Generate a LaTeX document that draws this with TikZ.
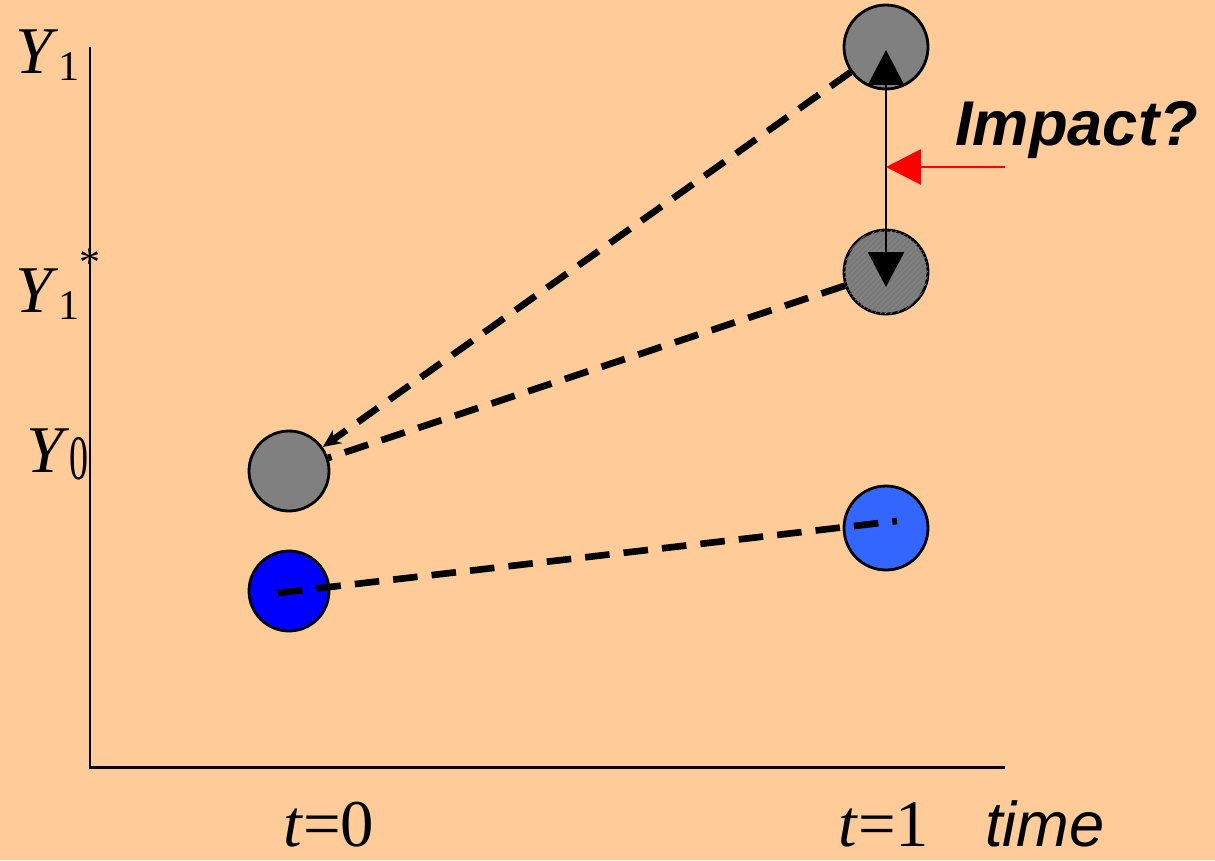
\documentclass[tikz,border=0pt]{standalone}
\usepackage{fontspec}
\setmainfont{Liberation Serif}
\setsansfont{Liberation Sans}
\usepackage{xcolor}
\usetikzlibrary{arrows.meta,patterns.meta}
\definecolor{peach}{HTML}{FFCC99}
\definecolor{dotgray}{HTML}{808080}
\definecolor{dotblue}{HTML}{0000FF}
\definecolor{dotlight}{HTML}{3366FF}
\newcommand{\lowsub}[2][24]{\raisebox{-0.14cm}{\fontsize{#1}{#1}\selectfont #2}}

\begin{document}
\begin{tikzpicture}[
  x=0.02cm, y=-0.02cm,
  dot/.style={draw, circle, line width=1.6pt, minimum size=1.68cm, inner sep=0pt},
  smalldot/.style={dot, minimum size=1.6cm},
  hatched/.style={fill=dotgray, postaction={pattern={Lines[angle=45,distance=2.2pt,line width=0.5pt]}, pattern color=black!55}},
  lbl/.style={inner sep=0pt, anchor=base west, font=\fontsize{38}{40}\selectfont},
  sflbl/.style={inner sep=0pt, anchor=base west, font=\fontsize{36}{38}\selectfont\sffamily\itshape},
  axisline/.style={line width=1.7pt},
  dash line/.style={line width=3.8pt, dash pattern=on 14pt off 8pt},
  impactarr/.style={{Triangle[length=0.7cm,width=0.72cm]}-{Triangle[length=0.7cm,width=0.72cm]}, line width=1.6pt},
  redarr/.style={-{Triangle[length=0.7cm,width=0.7cm]}, line width=1.6pt, red},
  ]
  % background and fixed frame
  \fill[peach] (0,0) rectangle (1215,860);
  \useasboundingbox (0,0) rectangle (1215,860);

  % axes
  \coordinate (ytop)   at (90,47);
  \coordinate (origin) at (90,767);
  \coordinate (xend)   at (1005,767);
  \draw[axisline] (ytop) -- (origin) -- (xend);

  % axis labels
  \node[lbl] (lab1)  at (15,73)  {\textit{Y}\lowsub{1}};
  \node[lbl] (lab1s) at (15,312) {\textit{Y}\lowsub{1}\raisebox{0.72cm}{\fontsize{24}{24}\selectfont *}};
  \node[lbl] (lab0)  at (26,472) {\textit{Y}\lowsub[36]{\scalebox{0.6}[1]{0}}};
  \node[lbl] (tzero) at (283,846) {\textit{t}=0};
  \node[lbl] (tone)  at (838,846) {\textit{t}=1};
  \node[sflbl] (time) at (985,846) {time};

  % outcomes
  \node[smalldot, fill=dotgray]  (y0)  at (289,471) {};
  \node[smalldot, fill=dotblue]  (b0)  at (289,591) {};
  \node[dot, fill=dotgray]       (y1)  at (886,47)  {};
  \node[dot, hatched]            (y1s) at (886,272) {};
  \node[dot, fill=dotlight]      (b1)  at (886,528) {};

  % trajectories
  \draw[dash line, -{Stealth[length=0.36cm,width=0.32cm]}] (y1) -- (y0);
  \draw[dash line] (y1s) -- (y0);
  \draw[dash line] ([xshift=-0.22cm,yshift=-0.04cm]b0.center) -- ([xshift=0.22cm,yshift=0.14cm]b1.center);

  % impact
  \draw[impactarr] ([yshift=-0.3cm]y1s.center) -- ([yshift=-0.06cm]y1.center);
  \coordinate (redstart) at (1005,167);
  \draw[redarr] (redstart) -- (redstart -| y1);
  \node[sflbl, font=\fontsize{36}{38}\selectfont\sffamily\bfseries\itshape] (impact) at (955,145) {Impact?};
\end{tikzpicture}
\end{document}
